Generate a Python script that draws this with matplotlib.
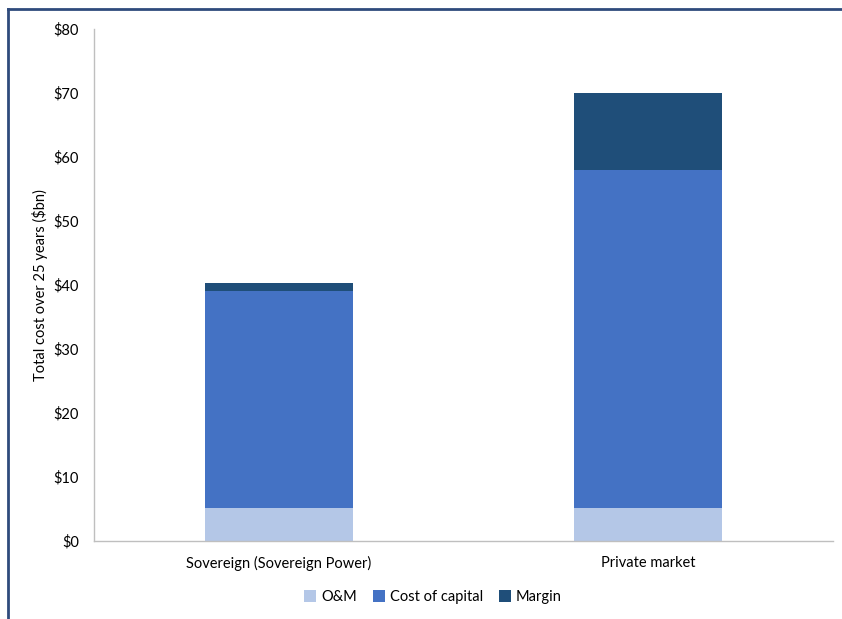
import matplotlib.pyplot as plt

plt.rcParams['font.family'] = ['Lato', 'DejaVu Sans']

categories = ['Sovereign (Sovereign Power)', 'Private market']
om = [5.2, 5.2]
cost_of_capital = [33.8, 52.8]
margin = [1.3, 12.0]

colors = ['#B4C7E7', '#4472C4', '#1F4E79']

fig = plt.figure(figsize=(8.42, 6.19), dpi=100)
ax = fig.add_axes([94/842, 1 - 541/619, 739/842, 512/619])

x = range(len(categories))
w = 0.40
ax.bar(x, om, w, color=colors[0], label='O&M')
ax.bar(x, cost_of_capital, w, bottom=om, color=colors[1], label='Cost of capital')
bottom2 = [a + b for a, b in zip(om, cost_of_capital)]
ax.bar(x, margin, w, bottom=bottom2, color=colors[2], label='Margin')

ax.set_xlim(-0.5, 1.5)
ax.set_ylim(0, 80)
ax.set_yticks(range(0, 81, 10))
ax.set_yticklabels([f'${v}' for v in range(0, 81, 10)], fontsize=10.5)
ax.set_xticks(list(x))
ax.set_xticklabels(categories, fontsize=10.5)
ax.tick_params(axis='both', length=0)
ax.tick_params(axis='y', pad=11)
ax.tick_params(axis='x', pad=11)
for s in ['top', 'right']:
    ax.spines[s].set_visible(False)
for s in ['left', 'bottom']:
    ax.spines[s].set_color('#BFBFBF')
    ax.spines[s].set_linewidth(1.0)

fig.text(40/842, 1 - 285/619, 'Total cost over 25 years ($bn)', fontsize=10.5,
         rotation=90, ha='center', va='center')

fig.legend(loc='center', bbox_to_anchor=(433/842, 1 - 597/619), ncol=3, frameon=False,
           fontsize=10.5, handlelength=0.8, handleheight=0.8, handletextpad=0.35, columnspacing=1.1)

# outer frame (left and top edges)
fig.add_artist(plt.Line2D([8/842, 8/842], [0, 1 - 9/619], transform=fig.transFigure,
                          color='#2F4B7C', linewidth=2))
fig.add_artist(plt.Line2D([8/842, 1], [1 - 9/619, 1 - 9/619], transform=fig.transFigure,
                          color='#2F4B7C', linewidth=2))

fig.savefig('out.png', dpi=100)
